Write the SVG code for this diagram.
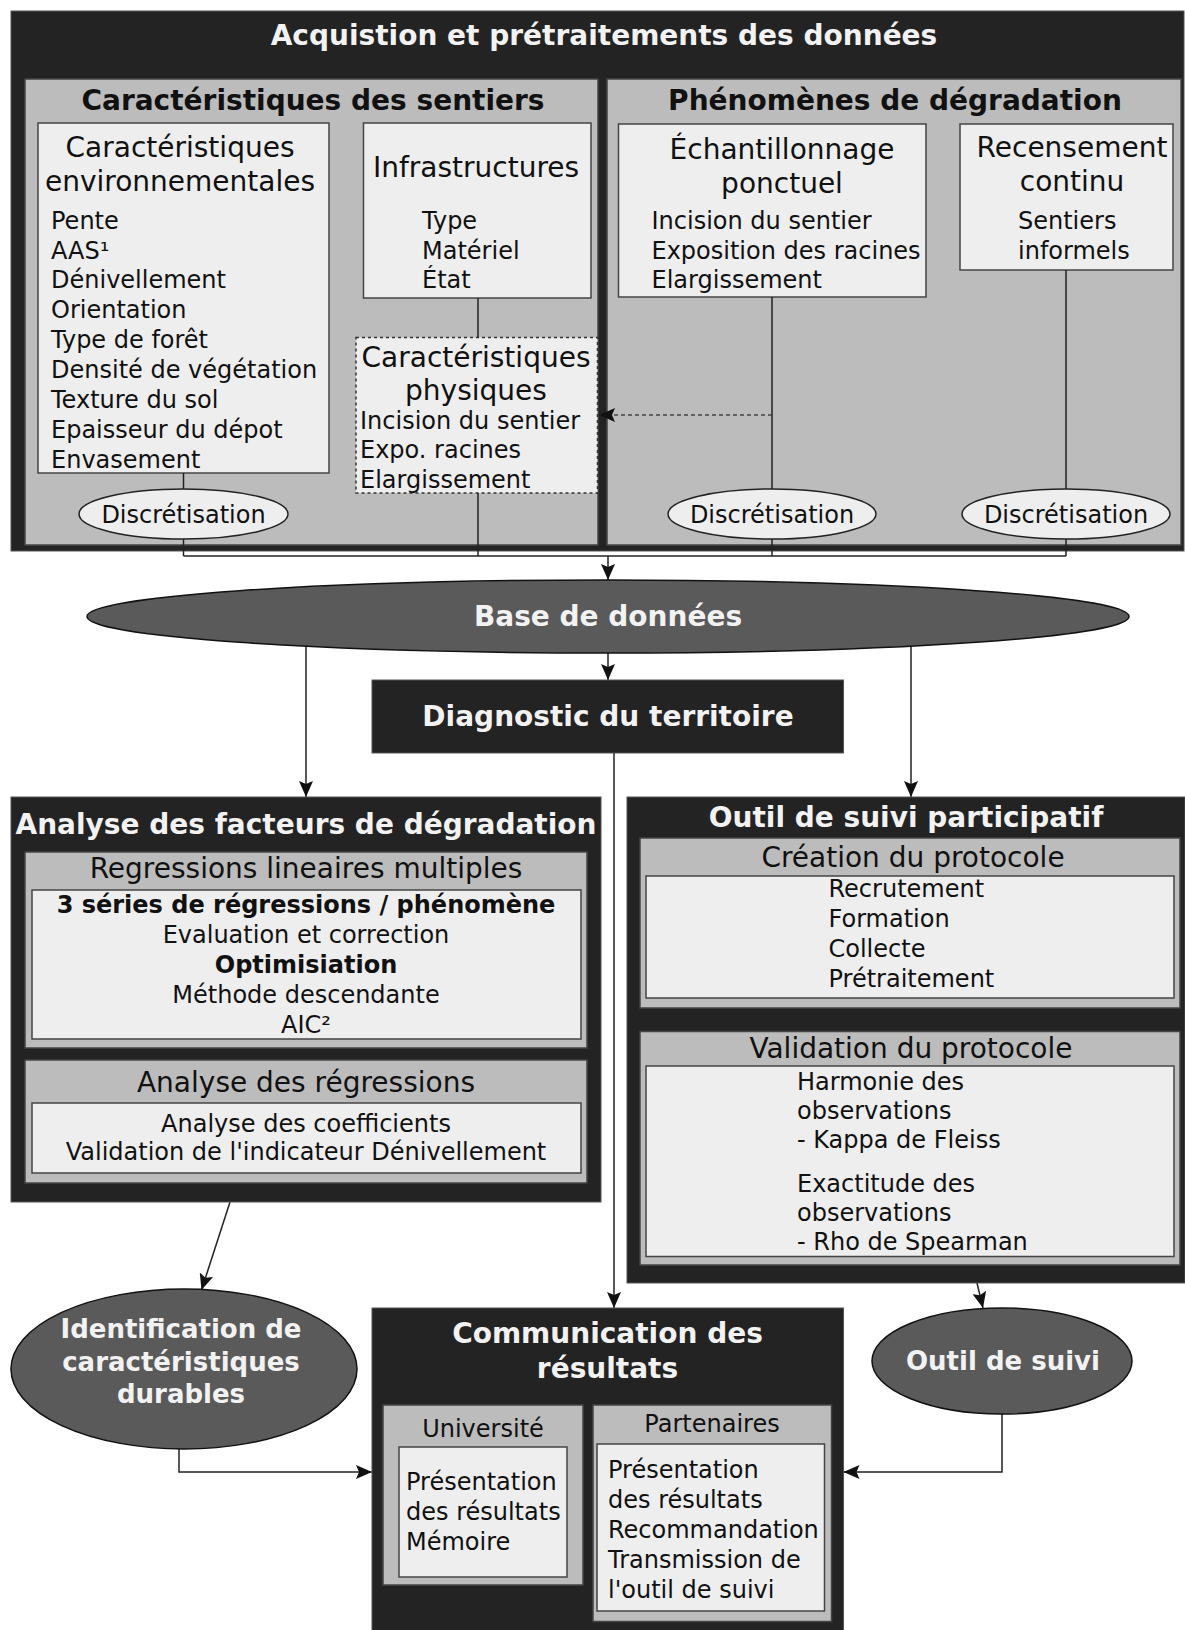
<svg xmlns="http://www.w3.org/2000/svg" width="1185" height="1630" viewBox="0 0 1185 1630">
<style>
text{font-family:"DejaVu Sans","Liberation Sans",sans-serif;fill:#111}
.dark{fill:#232323;stroke:#555;stroke-width:1}
.panel{fill:#bcbcbc;stroke:#444;stroke-width:1.5}
.inner{fill:#eeeeee;stroke:#444;stroke-width:1.5}
.dash{fill:#eeeeee;stroke:#333;stroke-width:1.5;stroke-dasharray:3 3}
.ell{fill:#5a5a5a;stroke:#111;stroke-width:1.5}
.disc{fill:#eeeeee;stroke:#222;stroke-width:1.5}
.hw{font-size:28px;font-weight:bold;fill:#f2f2f2;text-anchor:middle}
.hw26{font-size:26px;font-weight:bold;fill:#f2f2f2;text-anchor:middle}
.hb{font-size:28px;font-weight:bold;text-anchor:middle}
.t28{font-size:28px}
.t24{font-size:24px}
.b24{font-size:24px;font-weight:bold}
.c{text-anchor:middle}
.conn{stroke:#222;stroke-width:1.5;fill:none}
.dconn{stroke:#444;stroke-width:1.5;fill:none;stroke-dasharray:4 3}
</style>
<defs>
<marker id="ah" markerUnits="userSpaceOnUse" markerWidth="16" markerHeight="14" refX="16" refY="7" orient="auto">
<path d="M0,0 L16,7 L0,14 L3,7 z" fill="#111"/>
</marker>
</defs>

<g id="acquisition">
<rect class="dark" x="11" y="11" width="1173" height="540"/>
<text class="hw" x="604" y="45">Acquistion et prétraitements des données</text>
</g>

<g id="sentiers">
<rect class="panel" x="25" y="79" width="573" height="466"/>
<text class="hb" x="313" y="110">Caractéristiques des sentiers</text>
</g>

<g id="phenomenes">
<rect class="panel" x="607" y="79" width="574" height="466"/>
<text class="hb" x="895" y="110">Phénomènes de dégradation</text>
</g>

<g id="env">
<rect class="inner" x="38" y="123" width="291" height="350"/>
<text class="t28 c" x="180" y="157">Caractéristiques</text>
<text class="t28 c" x="180" y="191">environnementales</text>
<text class="t24" x="51" y="228.6">Pente</text>
<text class="t24" x="51" y="258.5">AAS¹</text>
<text class="t24" x="51" y="288.4">Dénivellement</text>
<text class="t24" x="51" y="318.3">Orientation</text>
<text class="t24" x="51" y="348.2">Type de forêt</text>
<text class="t24" x="51" y="378.1">Densité de végétation</text>
<text class="t24" x="51" y="408">Texture du sol</text>
<text class="t24" x="51" y="437.9">Epaisseur du dépot</text>
<text class="t24" x="51" y="467.8">Envasement</text>
</g>

<g id="infra">
<rect class="inner" x="363.5" y="123" width="227.5" height="175"/>
<text class="t28 c" x="476" y="177">Infrastructures</text>
<text class="t24" x="422" y="228.6">Type</text>
<text class="t24" x="422" y="258.5">Matériel</text>
<text class="t24" x="422" y="288.4">État</text>
</g>

<g id="physiques">
<rect class="dash" x="356" y="337.5" width="241.5" height="155.5"/>
<text class="t28 c" x="476" y="367">Caractéristiques</text>
<text class="t28 c" x="476" y="400">physiques</text>
<text class="t24" x="360" y="428.5">Incision du sentier</text>
<text class="t24" x="360" y="458">Expo. racines</text>
<text class="t24" x="360" y="487.5">Elargissement</text>
</g>

<g id="echantillonnage">
<rect class="inner" x="618.5" y="124" width="307.5" height="173"/>
<text class="t28 c" x="782" y="159">Échantillonnage</text>
<text class="t28 c" x="782" y="193">ponctuel</text>
<text class="t24" x="651.5" y="228.6">Incision du sentier</text>
<text class="t24" x="651.5" y="258.5">Exposition des racines</text>
<text class="t24" x="651.5" y="288.4">Elargissement</text>
</g>

<g id="recensement">
<rect class="inner" x="960" y="124" width="213" height="146"/>
<text class="t28 c" x="1072" y="157">Recensement</text>
<text class="t28 c" x="1072" y="191">continu</text>
<text class="t24" x="1018" y="228.6">Sentiers</text>
<text class="t24" x="1018" y="258.5">informels</text>
</g>

<g id="connectors">
<line class="conn" x1="478" y1="298" x2="478" y2="337.5"/>
<line class="conn" x1="183.5" y1="473" x2="183.5" y2="489"/>
<line class="conn" x1="183.5" y1="539" x2="183.5" y2="556"/>
<line class="conn" x1="478" y1="493" x2="478" y2="556"/>
<line class="conn" x1="772" y1="297" x2="772" y2="489"/>
<line class="conn" x1="772" y1="539" x2="772" y2="556"/>
<line class="conn" x1="1066" y1="270" x2="1066" y2="489"/>
<line class="conn" x1="1066" y1="539" x2="1066" y2="556"/>
<line class="conn" x1="183.5" y1="556" x2="1066" y2="556"/>
<line class="dconn" x1="772" y1="415" x2="599" y2="415" marker-end="url(#ah)"/>
<line class="conn" x1="608" y1="556" x2="608" y2="580" marker-end="url(#ah)"/>
<line class="conn" x1="608" y1="653" x2="608" y2="680" marker-end="url(#ah)"/>
<line class="conn" x1="306" y1="646" x2="306" y2="797" marker-end="url(#ah)"/>
<line class="conn" x1="911" y1="646" x2="911" y2="797" marker-end="url(#ah)"/>
<line class="conn" x1="614" y1="753" x2="614" y2="1308" marker-end="url(#ah)"/>
<line class="conn" x1="309" y1="1048" x2="309" y2="1060" marker-end="url(#ah)"/>
<line class="conn" x1="911" y1="1008" x2="911" y2="1031.5" marker-end="url(#ah)"/>
<line class="conn" x1="230" y1="1202" x2="201.5" y2="1290" marker-end="url(#ah)"/>
<line class="conn" x1="977" y1="1283" x2="983" y2="1308" marker-end="url(#ah)"/>
<polyline class="conn" points="179,1449 179,1472 372,1472" marker-end="url(#ah)"/>
<polyline class="conn" points="1002,1414 1002,1472 843.5,1472" marker-end="url(#ah)"/>
</g>

<g id="discretisation-1">
<ellipse class="disc" cx="183.5" cy="514" rx="104.5" ry="25"/>
<text class="t24 c" x="183.5" y="523">Discrétisation</text>
</g>
<g id="discretisation-2">
<ellipse class="disc" cx="772" cy="514" rx="104" ry="25"/>
<text class="t24 c" x="772" y="523">Discrétisation</text>
</g>
<g id="discretisation-3">
<ellipse class="disc" cx="1066" cy="514" rx="104" ry="25"/>
<text class="t24 c" x="1066" y="523">Discrétisation</text>
</g>

<g id="base">
<ellipse class="ell" cx="608" cy="616.5" rx="521" ry="36.5"/>
<text class="hw" x="608" y="626">Base de données</text>
</g>

<g id="diagnostic">
<rect class="dark" x="372" y="680" width="471.5" height="73"/>
<text class="hw" x="608" y="726">Diagnostic du territoire</text>
</g>

<g id="analyse">
<rect class="dark" x="11" y="797" width="590" height="405"/>
<text class="hw" x="306" y="834">Analyse des facteurs de dégradation</text>
</g>

<g id="regressions">
<rect class="panel" x="25" y="852" width="562" height="196"/>
<text class="t28 c" x="306" y="878">Regressions lineaires multiples</text>
<rect class="inner" x="32" y="890" width="549" height="149"/>
<text class="b24 c" x="306" y="913">3 séries de régressions / phénomène</text>
<text class="t24 c" x="306" y="943">Evaluation et correction</text>
<text class="b24 c" x="306" y="973">Optimisiation</text>
<text class="t24 c" x="306" y="1003">Méthode descendante</text>
<text class="t24 c" x="306" y="1033">AIC²</text>
</g>

<g id="analyse-regressions">
<rect class="panel" x="25" y="1060" width="562" height="123"/>
<text class="t28 c" x="306" y="1092">Analyse des régressions</text>
<rect class="inner" x="32" y="1103" width="549" height="70"/>
<text class="t24 c" x="306" y="1132">Analyse des coefficients</text>
<text class="t24 c" x="306" y="1160">Validation de l'indicateur Dénivellement</text>
</g>

<g id="outil-participatif">
<rect class="dark" x="627" y="797" width="558" height="486"/>
<text class="hw" x="906" y="827">Outil de suivi participatif</text>
</g>

<g id="creation">
<rect class="panel" x="640" y="838" width="540" height="170"/>
<text class="t28 c" x="913" y="867">Création du protocole</text>
<rect class="inner" x="646" y="876" width="528" height="122"/>
<text class="t24" x="828.5" y="897">Recrutement</text>
<text class="t24" x="828.5" y="927">Formation</text>
<text class="t24" x="828.5" y="957">Collecte</text>
<text class="t24" x="828.5" y="987">Prétraitement</text>
</g>

<g id="validation">
<rect class="panel" x="640" y="1031.5" width="540" height="233.5"/>
<text class="t28 c" x="911" y="1058">Validation du protocole</text>
<rect class="inner" x="646" y="1066" width="528" height="190.5"/>
<text class="t24" x="797" y="1090">Harmonie des</text>
<text class="t24" x="797" y="1119">observations</text>
<text class="t24" x="797" y="1148">- Kappa de Fleiss</text>
<text class="t24" x="797" y="1192">Exactitude des</text>
<text class="t24" x="797" y="1221">observations</text>
<text class="t24" x="797" y="1250">- Rho de Spearman</text>
</g>

<g id="identification">
<ellipse class="ell" cx="184" cy="1369" rx="173" ry="80"/>
<text class="hw26" x="181" y="1338">Identification de</text>
<text class="hw26" x="181" y="1371">caractéristiques</text>
<text class="hw26" x="181" y="1403">durables</text>
</g>

<g id="outil-suivi">
<ellipse class="ell" cx="1002" cy="1361" rx="130" ry="53"/>
<text class="hw26" x="1003" y="1370">Outil de suivi</text>
</g>

<g id="communication">
<rect class="dark" x="372" y="1308" width="471.5" height="330"/>
<text class="hw" x="607.5" y="1343">Communication des</text>
<text class="hw" x="607.5" y="1378">résultats</text>
</g>

<g id="universite">
<rect class="panel" x="383" y="1405" width="200" height="180"/>
<text class="t24 c" x="483" y="1437">Université</text>
<rect class="inner" x="399" y="1447" width="168" height="130"/>
<text class="t24" x="406" y="1490">Présentation</text>
<text class="t24" x="406" y="1520">des résultats</text>
<text class="t24" x="406" y="1550">Mémoire</text>
</g>

<g id="partenaires">
<rect class="panel" x="593" y="1405" width="238.5" height="216.5"/>
<text class="t24 c" x="712" y="1432">Partenaires</text>
<rect class="inner" x="597" y="1444" width="227.5" height="167"/>
<text class="t24" x="608" y="1478">Présentation</text>
<text class="t24" x="608" y="1508">des résultats</text>
<text class="t24" x="608" y="1538">Recommandation</text>
<text class="t24" x="608" y="1568">Transmission de</text>
<text class="t24" x="608" y="1598">l'outil de suivi</text>
</g>
</svg>
